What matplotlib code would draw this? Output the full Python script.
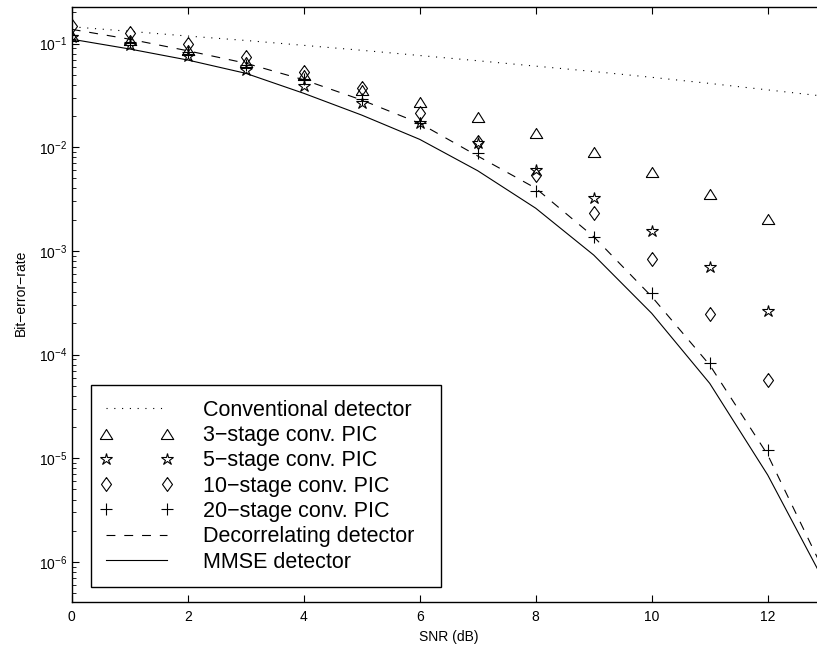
import matplotlib
matplotlib.use("Agg")
import matplotlib.pyplot as plt
from matplotlib.lines import Line2D
from matplotlib.legend_handler import HandlerLine2D

plt.rcParams['font.family'] = ['Liberation Sans', 'DejaVu Sans']
plt.rcParams['mathtext.fontset'] = 'custom'
plt.rcParams['mathtext.rm'] = 'Liberation Sans'
plt.rcParams['mathtext.it'] = 'Liberation Sans'

# SNR in dB
snr_lines = [0, 1, 2, 3, 4, 5, 6, 7, 8, 9, 10, 11, 12, 13]
snr_pts = [0, 1, 2, 3, 4, 5, 6, 7, 8, 9, 10, 11, 12]

conventional = [0.145, 0.131, 0.118, 0.107, 0.096, 0.086, 0.0766, 0.0682,
                0.0605, 0.0537, 0.0472, 0.0412, 0.0357, 0.0309]
decorrelating = [0.137, 0.110, 0.0851, 0.0646, 0.0447, 0.0285, 0.0170, 8.22e-3,
                 4.02e-3, 1.37e-3, 3.63e-4, 7.94e-5, 1.08e-5, 7.5e-7]
mmse = [0.110, 0.0885, 0.0693, 0.0516, 0.0331, 0.0204, 0.0119, 5.93e-3,
        2.58e-3, 9.12e-4, 2.50e-4, 5.28e-5, 6.90e-6, 6.08e-7]

pic3 = [0.118, 0.108, 0.087, 0.067, 0.0497, 0.0356, 0.0275, 0.0197, 0.0136,
        9.06e-3, 5.8e-3, 3.54e-3, 2.05e-3]
pic5 = [0.115, 0.097, 0.075, 0.0555, 0.0389, 0.0269, 0.0172, 0.0109, 6.0e-3,
        3.21e-3, 1.57e-3, 6.95e-4, 2.65e-4]
pic10 = [0.148, 0.126, 0.098, 0.0746, 0.0535, 0.037, 0.0212, 0.0113, 5.4e-3,
         2.33e-3, 8.36e-4, 2.47e-4, 5.7e-5]
pic20 = [0.12, 0.104, 0.082, 0.062, 0.0454, 0.0292, 0.0172, 8.7e-3, 3.8e-3,
         1.37e-3, 3.9e-4, 8.25e-5, 1.2e-5]

labels = ["Conventional detector", "3\u2212stage conv. PIC", "5\u2212stage conv. PIC",
          "10\u2212stage conv. PIC", "20\u2212stage conv. PIC",
          "Decorrelating detector", "MMSE detector"]

# matlab-like marker shapes (flatter triangle, wider diamond)
tri = [(-1, -0.8), (1, -0.8), (0, 0.8), (-1, -0.8)]
dia = [(0, 1), (0.72, 0), (0, -1), (-0.72, 0), (0, 1)]

fig = plt.figure(figsize=(8.17, 6.5), dpi=100)
ax = fig.add_axes([0.08776, 0.07385, 0.92289, 0.91538])

lw = 0.8
mk = dict(linestyle='none', color='k', markerfacecolor='none', markeredgewidth=0.8)

ax.plot(snr_lines, conventional, color='k', lw=lw, linestyle=(0, (1, 6)), label=labels[0])
ax.plot(snr_pts, pic3, marker=tri, markersize=9, label=labels[1], **mk)
ax.plot(snr_pts, pic5, marker='*', markersize=9, label=labels[2], **mk)
ax.plot(snr_pts, pic10, marker=dia, markersize=10, label=labels[3], **mk)
ax.plot(snr_pts, pic20, marker='+', markersize=8, label=labels[4], **mk)
ax.plot(snr_lines, decorrelating, color='k', lw=lw, linestyle=(0, (8, 8)), label=labels[5])
ax.plot(snr_lines, mmse, color='k', lw=lw, label=labels[6])

ax.set_yscale('log')
ax.set_xlim(0, 13)
ax.set_ylim(10 ** -6.386, 10 ** -0.648)
ax.set_xticks([0, 2, 4, 6, 8, 10, 12])
ax.set_yticks([1e-6, 1e-5, 1e-4, 1e-3, 1e-2, 1e-1])

for s in ax.spines.values():
    s.set_linewidth(1.0)
ax.tick_params(which='both', direction='in', top=True, right=True, labelsize=10)
ax.tick_params(axis='x', which='major', length=5, pad=6)
ax.tick_params(axis='y', which='major', length=5, pad=3.5)
ax.tick_params(axis='y', which='minor', length=3)
ax.tick_params(axis='x', which='minor', top=False, bottom=False)

ax.set_xlabel("SNR (dB)", fontsize=10, labelpad=4)
ax.set_ylabel("Bit\u2212error\u2212rate", fontsize=10)
ax.yaxis.set_label_coords(-0.058, 0.52)

leg = ax.legend(loc='lower left', bbox_to_anchor=(0.1114, 0.0965, 0.428, 0.31),
                bbox_transform=fig.transFigure, borderaxespad=0, mode='expand',
                fontsize=15.5, numpoints=2, handlelength=2.84, handletextpad=1.7,
                labelspacing=0.2, borderpad=0.68, fancybox=False,
                framealpha=1, edgecolor='k',
                handler_map={Line2D: HandlerLine2D(marker_pad=0)})
leg.get_frame().set_linewidth(1.0)

fig.savefig("out.png", dpi=100)
